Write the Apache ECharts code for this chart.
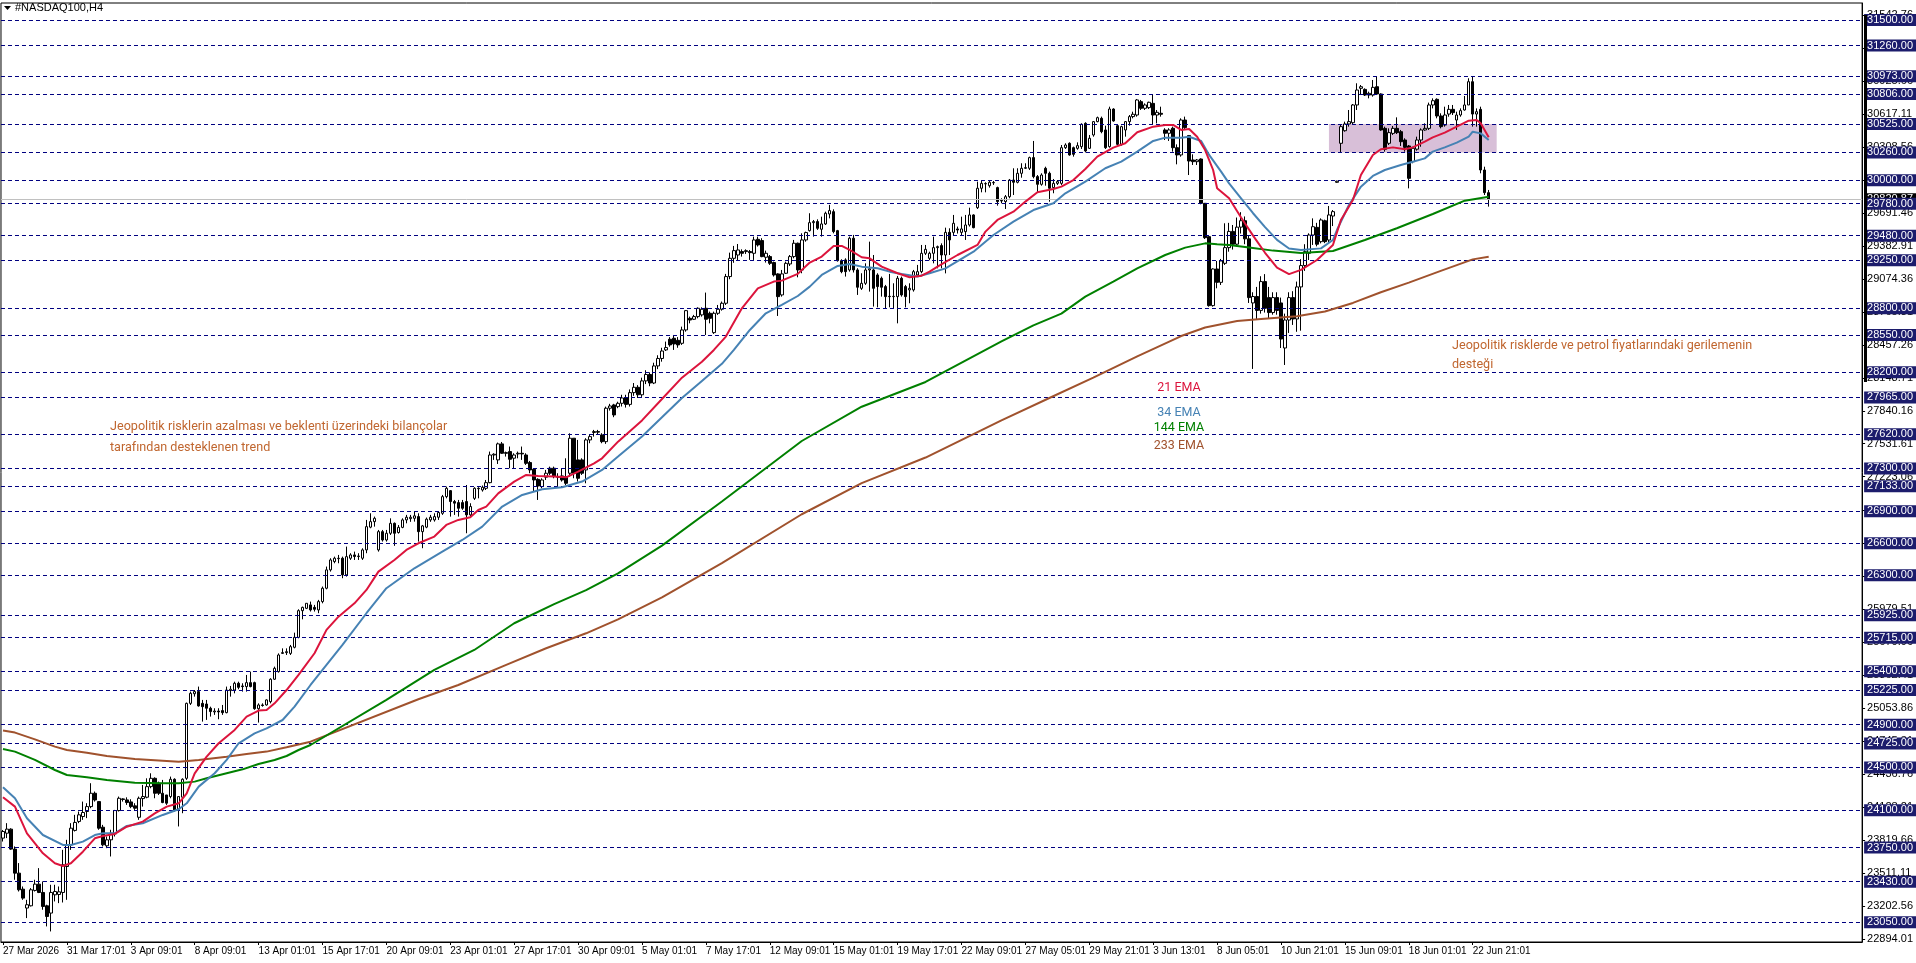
<!DOCTYPE html>
<html>
<head>
<meta charset="utf-8">
<title>#NASDAQ100,H4</title>
<script src="https://cdn.jsdelivr.net/npm/echarts@6.0.0/dist/echarts.min.js"></script>
<style>
html, body { margin: 0; padding: 0; background: #fff; }
#main { width: 1916px; height: 963px; }
</style>
</head>
<body>
<div id="main"></div>
<script>
// zaman etiketleri (her 16 mumda bir)
var tickLabels = ['27 Mar 2026', '31 Mar 17:01', '3 Apr 09:01', '8 Apr 09:01', '13 Apr 01:01', '15 Apr 17:01',
    '20 Apr 09:01', '23 Apr 01:01', '27 Apr 17:01', '30 Apr 09:01', '5 May 01:01', '7 May 17:01', '12 May 09:01',
    '15 May 01:01', '19 May 17:01', '22 May 09:01', '27 May 05:01', '29 May 21:01', '3 Jun 13:01', '8 Jun 05:01',
    '10 Jun 21:01', '15 Jun 09:01', '18 Jun 01:01', '22 Jun 21:01'];

// H4 mumlar: [open, close, low, high]
var ohlc = [
    [23838,23900,23806,23914],[23884,23922,23838,23978],[23922,23735,23728,23930],[23735,23510,23448,23760],
    [23510,23354,23338,23604],[23360,23276,23260,23385],[23183,23214,23089,23260],[23204,23354,23198,23370],
    [23348,23407,23338,23448],[23407,23329,23323,23557],[23329,23198,23167,23432],[23204,23104,23011,23214],
    [23136,23329,22964,23401],[23307,23338,23245,23401],[23310,23335,23229,23385],[23329,23588,23235,23728],
    [23572,23775,23260,23822],[23775,23931,23728,23978],[23910,23985,23900,24056],[23994,24056,23978,24087],
    [24040,24078,24009,24180],[24087,24133,24025,24165],[24133,24258,24118,24352],[24258,24195,24180,24274],
    [24180,23931,23916,24180],[23940,23775,23760,23962],[23766,23822,23744,23853],[23822,23884,23666,23916],
    [23878,24096,23853,24102],[24096,24211,24087,24227],[24205,24200,24180,24211],[24196,24171,24149,24220],
    [24177,24133,24118,24202],[24140,24118,24102,24165],[24033,24211,24009,24227],[24208,24227,24133,24336],
    [24221,24320,24211,24398],[24320,24398,24305,24445],[24398,24258,24211,24407],[24352,24258,24242,24367],
    [24258,24171,24165,24383],[24242,24165,24149,24242],[24227,24389,24211,24414],[24389,24102,24087,24398],
    [24109,24227,23947,24227],[24221,24389,24071,24398],[24398,25100,24383,25107],[25100,25194,25085,25210],
    [25190,25210,25163,25225],[25210,25076,25069,25257],[25100,25069,24929,25132],[25094,25054,24945,25132],
    [25054,25023,24976,25069],[25020,25028,24992,25054],[25028,25020,24951,25054],[25032,25013,24992,25085],
    [25013,25225,25007,25257],[25220,25232,25163,25263],[25225,25288,25194,25303],[25288,25250,25232,25303],
    [25263,25257,25210,25288],[25257,25294,25210,25366],[25294,25257,25250,25397],[25294,25050,25040,25303],
    [25050,25085,24920,25100],[25085,25080,25069,25100],[25085,25132,25079,25138],[25116,25326,25100,25335],
    [25326,25428,25319,25444],[25397,25553,25388,25568],[25568,25575,25563,25615],[25575,25584,25553,25615],
    [25568,25631,25553,25647],[25625,25718,25615,25762],[25718,25968,25709,25981],[25968,25999,25887,26006],
    [25990,26037,25983,26037],
    // 77
    [26022,25975,25960,26053],[25999,25981,25960,26022],[25975,26053,25944,26069],[26053,26178,26037,26194],
    [26178,26350,26168,26381],[26350,26443,26334,26459],[26428,26459,26412,26474],[26455,26459,26412,26490],
    [26459,26303,26272,26474],[26303,26474,26287,26568],[26459,26490,26443,26506],[26490,26475,26443,26521],
    [26475,26480,26443,26506],[26459,26537,26443,26552],[26537,26755,26506,26818],[26750,26802,26740,26880],
    [26802,26833,26755,26849],[26537,26708,26521,26724],[26708,26630,26615,26724],[26630,26693,26615,26724],
    [26693,26786,26677,26833],[26786,26693,26575,26794],[26700,26748,26690,26770],[26748,26818,26740,26833],
    [26818,26843,26786,26865],[26830,26843,26800,26865],[26833,26856,26802,26896],[26849,26708,26615,26880],
    [26708,26762,26553,26771],[26750,26825,26740,26840],[26818,26843,26800,26865],[26818,26849,26802,26880],
    [26843,26887,26818,26900],[26880,27036,26865,27052],[27036,27114,27020,27130],[27092,26990,26849,27098],
    [26990,26975,26865,27005],[26980,26927,26849,27005],[26980,26927,26912,27005],[26990,26865,26693,27145],
    [26865,26943,26849,26974],[27020,27114,27005,27124],[27114,27110,27020,27124],[27098,27124,27083,27140],
    [27114,27167,27098,27192],[27167,27426,27161,27458],[27426,27433,27380,27442],[27380,27530,27342,27542],
    [27530,27442,27436,27548],[27448,27442,27411,27458],[27458,27386,27302,27505],[27396,27426,27302,27442],
    [27436,27442,27395,27458],[27442,27436,27380,27505],[27426,27348,27333,27442],[27355,27286,27255,27370],
    [27292,27192,27083,27302],[27198,27136,27005,27208],[27130,27192,27114,27208],[27218,27255,27192,27286],
    [27302,27255,27239,27317],[27302,27224,27208,27317],[27224,27218,27130,27255],[27230,27192,27177,27302],
    [27224,27161,27145,27395],[27255,27583,27224,27629],[27583,27255,27208,27583],[27380,27208,27177,27567],
    [27380,27255,27239,27395],[27286,27567,27161,27583],[27567,27598,27536,27614],[27637,27645,27598,27661],
    [27645,27640,27614,27661],[27614,27551,27536,27630],[27551,27864,27530,27879],[27864,27885,27842,27905],
    [27895,27801,27780,27905],[27879,27910,27864,27925],
    // 155
    [27910,27960,27880,27990],[27960,27900,27870,27990],[27900,28010,27880,28040],[28010,28060,27980,28100],
    [28060,27990,27960,28080],[27990,28120,27970,28150],[28120,28180,28090,28220],[28180,28100,28070,28200],
    [28100,28260,28090,28290],[28260,28330,28230,28360],[28330,28400,28300,28430],
    // 166
    [28410,28432,28400,28488],[28510,28457,28440,28530],[28519,28466,28410,28550],[28500,28457,28430,28530],
    [28472,28597,28457,28628],[28597,28778,28581,28784],[28706,28690,28659,28722],[28697,28722,28690,28738],
    [28722,28800,28706,28809],[28738,28791,28722,28809],[28800,28697,28550,28947],[28753,28706,28659,28769],
    [28572,28753,28560,28769],[28753,28791,28738,28831],[28791,28847,28778,28863],[28847,29097,28831,29122],
    [29097,29268,29072,29321],[29268,29340,29226,29384],[29299,29346,29246,29402],[29331,29315,29284,29352],
    [29331,29340,29309,29352],[29331,29321,29253,29346],[29315,29440,29253,29471],[29446,29393,29378,29471],
    [29434,29284,29278,29456],[29278,29315,29228,29340],[29284,29221,29206,29299],[29228,29112,29097,29237],
    [29122,28909,28728,29128],[28925,29122,28909,29159],[29128,29221,29122,29237],[29215,29284,29196,29299],
    [29284,29409,29268,29440],[29409,29159,29090,29415],[29159,29440,29128,29502],[29440,29509,29424,29518],
    [29527,29602,29518,29690],[29602,29612,29471,29627],[29612,29549,29534,29633],[29540,29590,29471,29658],
    [29590,29690,29580,29705],[29683,29715,29642,29768],[29705,29518,29502,29727],[29527,29246,29237,29534],
    [29246,29143,29128,29259],[29253,29143,29097,29268],[29159,29456,29143,29471],[29456,29159,29135,29487],
    [29159,28997,28925,29175],[28987,29034,28972,29128],[29034,29159,29019,29221],[29159,29170,28956,29424],
    [29159,28987,28816,29299],[29112,29003,28809,29128],[29081,28997,28909,29097],[29003,28909,28800,29019],
    [28912,28909,28809,29122],[28909,28912,28800,29034],[28909,29081,28659,29103],[29081,28925,28909,29097],
    [29003,28909,28809,29019],[28972,28987,28847,29034],[28972,29143,28956,29159],[29112,29143,29100,29206],
    [29143,29315,29128,29393],[29315,29352,29299,29393],
    // 232
    [29268,29315,29250,29330],[29315,29368,29221,29471],[29368,29377,29174,29387],[29387,29299,29174,29408],
    [29299,29511,29127,29555],[29511,29440,29299,29549],[29511,29596,29486,29674],[29543,29533,29500,29565],
    [29511,29543,29486,29658],[29518,29580,29440,29674],[29580,29674,29565,29742],[29674,29555,29549,29680],
    [29742,29924,29730,29986],[29924,29970,29886,29992],[29965,29968,29886,29980],[29948,29980,29930,29992],
    [29975,29978,29955,29992],[29930,29799,29761,29939],[29810,29805,29783,29830],[29799,29845,29730,29861],
    [29845,30001,29830,30011],[30001,29980,29861,30111],[29980,30064,29970,30111],[30064,30111,30023,30158],
    [30111,30117,30105,30158],[30111,30211,30095,30220],[30211,30033,30017,30367],[30033,29961,29886,30048],
    [29961,30048,29948,30064],[30111,30064,29948,30126],[30064,29924,29798,30080],[29930,29970,29877,30011],
    [29970,29986,29955,30001],[29970,30304,29955,30329],[30304,30329,30292,30345],[30345,30236,30229,30354],
    [30304,30242,30220,30314],[30298,30323,30285,30354],[30314,30523,30292,30532],[30532,30273,30260,30542],
    [30298,30392,30292,30423],[30423,30548,30407,30554],[30548,30585,30542,30595],[30579,30454,30439,30595],
    [30470,30304,30292,30510],[30314,30666,30304,30688],[30666,30554,30548,30673],[30510,30335,30323,30517],
    [30335,30501,30323,30510],[30470,30548,30407,30554],[30548,30595,30510,30610],[30595,30617,30579,30641],
    [30610,30751,30595,30760],[30735,30673,30657,30751],[30673,30704,30657,30719],[30679,30729,30666,30735],
    [30719,30610,30517,30804],[30610,30635,30532,30657],[30626,30617,30595,30688],[30470,30439,30376,30486],
    [30439,30470,30367,30486],[30486,30304,30267,30501],[30304,30236,30148,30335],[30236,30563,30220,30579],
    [30563,30492,30470,30595],[30417,30179,30048,30423],[30189,30173,30142,30242],[30173,30189,30142,30198],
    [30198,29783,29774,30204],[29783,29461,29449,29783],[29471,28825,28815,29471],[28825,29168,28815,29174],
    [29168,29043,28987,29243],[29043,29243,29018,29262],[29221,29368,29206,29596],
    // 307
    [29368,29520,29330,29600],[29520,29400,29350,29580],[29400,29560,29380,29650],[29560,29620,29500,29700],
    [29620,29450,29400,29660],[29450,28900,28850,29480],[28850,28910,28232,28950],[28910,28780,28700,29000],
    [28780,29050,28750,29100],[29050,28800,28760,29120],[28900,28760,28700,29000],[28760,28900,28740,28950],
    [28900,28780,28740,28950],[28850,28512,28428,28900],[28428,28690,28269,28750],[28690,28900,28569,28950],
    [28900,28700,28644,28960],[28700,29000,28580,29050],[29000,29200,28590,29260],[29200,29330,29150,29400],
    // 327
    [29315,29486,29252,29502],[29486,29564,29393,29642],[29558,29400,29380,29600],[29424,29627,29408,29642],
    [29620,29424,29410,29630],[29439,29674,29408,29758],[29664,29705,29570,29720],[29980,29990,29975,29995],
    [30345,30501,30257,30516],[30463,30526,30454,30548],[30526,30548,30501,30657],[30538,30704,30526,30713],
    [30704,30844,30657,30907],[30860,30875,30797,30891],[30850,30797,30788,30860],[30797,30813,30766,30829],
    [30797,30869,30782,30938],[30875,30807,30797,30969],[30807,30470,30463,30813],[30485,30289,30267,30501],
    [30345,30445,30329,30485],[30438,30485,30423,30507],[30485,30445,30432,30588],[30454,30360,30320,30470],
    [30376,30307,30267,30392],[30320,30017,29923,30329],[30173,30298,30158,30313],[30290,30376,30276,30407],
    [30376,30470,30313,30485],[30470,30485,30463,30532],[30485,30704,30470,30726],[30704,30744,30672,30766],
    [30757,30601,30579,30766],[30601,30501,30485,30626],[30516,30610,30501,30688],[30619,30663,30594,30704],
    [30663,30632,30610,30704],[30563,30610,30470,30641],[30610,30651,30594,30672],[30657,30704,30651,30788],
    [30704,30922,30704,30954],[30922,30619,30501,30969],[30619,30641,30501,30672],[30663,30095,30064,30688],
    [30095,29883,29861,30126],[29883,29821,29752,29908]
];

// EMA değerleri: [mum no, değer]
var ema21 = [[0,24220],[3,24133],[6,23883],[10,23696],[13,23602],[15,23577],[17,23602],[20,23711],[23,23836],
    [25,23858],[28,23877],[31,23945],[35,23992],[38,24070],[41,24133],[44,24164],[46,24258],[48,24445],[51,24601],
    [54,24726],[58,24851],[61,24976],[64,25032],[66,25038],[68,25100],[71,25225],[74,25366],[78,25569],[81,25788],
    [84,25912],[88,26037],[91,26162],[94,26334],[98,26443],[101,26537],[104,26599],[108,26662],[111,26771],
    [114,26818],[117,26843],[119,26911],[121,26943],[124,27067],[128,27177],[131,27239],[134,27230],[138,27224],
    [141,27217],[144,27270],[148,27348],[150,27395],[154,27551],[160,27750],[165,27950],[170,28150],[175,28300],
    [178,28410],[181,28535],[185,28800],[189,28987],[193,29050],[195,29059],[199,29122],[202,29228],[205,29284],
    [208,29384],[210,29384],[212,29346],[215,29278],[217,29268],[220,29190],[224,29128],[227,29090],[230,29105],
    [232,29143],[234,29190],[239,29299],[244,29393],[246,29518],[249,29627],[253,29705],[256,29799],[259,29886],
    [263,29917],[265,29939],[268,30001],[271,30105],[274,30220],[278,30304],[281,30345],[284,30448],[288,30501],
    [291,30517],[293,30517],[295,30470],[297,30479],[299,30407],[301,30282],[303,30095],[304,29924],[307,29830],
    [310,29650],[313,29480],[316,29320],[319,29180],[322,29120],[325,29160],[329,29252],[333,29393],[335,29627],
    [338,29814],[340,30048],[343,30236],[345,30289],[348,30307],[351,30289],[353,30307],[356,30360],[358,30401],
    [361,30445],[364,30501],[367,30557],[369,30563],[370,30532],[372,30401]];
var ema34 = [[0,24314],[3,24211],[6,24024],[10,23867],[15,23774],[17,23774],[20,23805],[23,23867],[25,23883],
    [28,23883],[31,23952],[35,23977],[40,24055],[44,24108],[46,24164],[49,24320],[53,24445],[56,24570],[59,24726],
    [63,24819],[66,24866],[70,24944],[73,25069],[77,25272],[80,25413],[85,25647],[91,25944],[96,26178],[103,26365],
    [110,26521],[115,26630],[120,26755],[125,26943],[130,27052],[135,27105],[140,27124],[145,27177],[150,27286],
    [154,27411],[160,27600],[165,27780],[170,27960],[175,28120],[180,28280],[183,28410],[187,28597],[191,28753],
    [195,28831],[199,28915],[202,29003],[205,29112],[209,29196],[212,29215],[215,29190],[219,29175],[222,29143],
    [225,29122],[229,29097],[232,29128],[236,29174],[243,29330],[248,29486],[253,29611],[258,29720],[263,29783],
    [266,29877],[271,29986],[276,30111],[280,30173],[284,30267],[288,30367],[291,30398],[295,30398],[297,30407],
    [300,30367],[302,30236],[305,30080],[307,29970],[310,29830],[313,29690],[316,29560],[319,29440],[322,29360],
    [325,29345],[330,29361],[333,29439],[334,29533],[337,29767],[340,29939],[343,30039],[346,30095],[350,30142],
    [353,30173],[356,30204],[358,30267],[361,30307],[364,30351],[367,30407],[368,30454],[370,30438],[372,30376]];
var ema144 = [[0,24673],[3,24648],[8,24570],[13,24476],[16,24429],[21,24407],[26,24382],[33,24357],[40,24351],
    [44,24351],[48,24367],[51,24398],[56,24445],[60,24482],[64,24532],[68,24570],[71,24607],[74,24663],[77,24710],
    [96,25132],[108,25413],[118,25600],[128,25850],[138,26030],[146,26160],[154,26318],[165,26577],[180,26990],
    [200,27557],[215,27878],[231,28110],[250,28490],[258,28640],[265,28750],[271,28909],[278,29050],
    [284,29174],[291,29299],[296,29368],[301,29408],[304,29399],[307,29393],[312,29370],[318,29340],[325,29318],
    [333,29337],[341,29440],[349,29549],[358,29683],[366,29808],[372,29845]];
var ema233 = [[0,24845],[3,24826],[8,24763],[13,24695],[16,24663],[21,24638],[26,24607],[33,24579],[40,24563],
    [44,24554],[49,24570],[56,24601],[61,24626],[66,24648],[71,24688],[77,24741],[104,25138],[114,25272],
    [126,25460],[136,25616],[146,25756],[154,25887],[165,26092],[180,26413],[200,26871],[215,27162],[231,27402],
    [250,27750],[262,27960],[273,28150],[284,28350],[295,28540],[301,28620],[309,28680],[315,28700],[324,28725],
    [331,28770],[338,28850],[345,28950],[352,29040],[360,29150],[368,29258],[372,29283]];

// yatay seviyeler
var levels = [31500, 31260, 30973, 30806, 30525, 30260, 30000, 29780, 29480, 29250, 28800, 28550, 28200,
    27965, 27620, 27300, 27133, 26900, 26600, 26300, 25925, 25715, 25400, 25225, 24900, 24725, 24500, 24100,
    23750, 23430, 23050];
// fiyat ekseni etiketleri
var priceTicks = [22894.01, 23202.56, 23511.11, 23819.66, 24128.21, 24436.76, 24745.31, 25053.86, 25362.41,
    25670.96, 25979.51, 26288.06, 26596.61, 26905.16, 27223.06, 27531.61, 27840.16, 28148.71, 28457.26,
    28765.81, 29074.36, 29382.91, 29691.46, 30000.01, 30308.56, 30617.11, 30925.66, 31234.21, 31542.76];
var lastPrice = 29820.87;
var zoneBars = [332, 374];
var zonePrices = [30260, 30525];

var slotCount = 466; // grafik sağa kaydırılmış, boş alan dahil
var slots = [];
for (var i = 0; i < slotCount; i++) slots.push(i);

var myChart = echarts.init(document.getElementById('main'));

var levelLabel = {
    show: true, position: 'end', distance: 2,
    color: '#fff', backgroundColor: '#1c1c6c',
    padding: [1, 3, 0, 3], fontSize: 11, fontFamily: 'Liberation Sans',
    formatter: function (p) { return p.value.toFixed(2); }
};

var markData = [{
    yAxis: lastPrice,
    lineStyle: { color: '#c0c0c0', type: 'solid', width: 1 },
    label: { show: true, position: 'end', distance: 2, color: '#fff', backgroundColor: '#000',
        padding: [1, 3, 0, 3], fontSize: 11, fontFamily: 'Liberation Sans',
        formatter: function () { return lastPrice.toFixed(2); } }
}];
levels.forEach(function (v) {
    markData.push({ yAxis: v });
});

function emaLine(name, data, color) {
    return {
        name: name, type: 'line', data: data, showSymbol: false, smooth: false, z: 5,
        lineStyle: { color: color, width: 2 }, silent: true
    };
}

function showTick(i) {
    return i % 16 === 0 && i / 16 < tickLabels.length;
}

var option = {
    animation: false,
    backgroundColor: '#fff',
    grid: { left: 0, right: 51, top: 3, bottom: 21, show: true, borderColor: '#000', borderWidth: 1 },
    xAxis: {
        type: 'category', data: slots, boundaryGap: true,
        axisLine: { lineStyle: { color: '#000', width: 1 } },
        axisTick: { show: true, alignWithLabel: true, length: 3, lineStyle: { color: '#000' }, interval: showTick },
        axisLabel: {
            interval: showTick,
            formatter: function (v, i) { return tickLabels[i / 16] || ''; },
            align: 'left', margin: 4, color: '#000', fontSize: 10, fontFamily: 'Liberation Sans'
        },
        splitLine: { show: false }
    },
    yAxis: {
        type: 'value', position: 'right', min: 22865, max: 31659, scale: true,
        axisLine: { show: true, lineStyle: { color: '#000', width: 1 } },
        axisTick: { show: true, length: 3, customValues: priceTicks, lineStyle: { color: '#000' } },
        axisLabel: {
            customValues: priceTicks, margin: 5, color: '#000', fontSize: 11, fontFamily: 'Liberation Sans',
            formatter: function (v) { return v.toFixed(2); }
        },
        splitLine: { show: false }
    },
    series: [
        {
            name: 'zone', type: 'line', data: [], z: 1, silent: true,
            markArea: {
                silent: true,
                itemStyle: { color: '#d8bfd8' },
                data: [[{ xAxis: zoneBars[0], yAxis: zonePrices[0] }, { xAxis: zoneBars[1], yAxis: zonePrices[1] }]]
            }
        },
        {
            name: 'levels', type: 'line', data: [], z: 2, silent: true,
            markLine: {
                silent: true, symbol: ['none', 'none'],
                lineStyle: { color: '#000080', type: [4, 3], width: 1 },
                label: levelLabel,
                data: markData
            }
        },
        {
            name: 'NASDAQ100', type: 'candlestick', data: ohlc, barWidth: 3, z: 3, silent: true,
            itemStyle: { color: '#fff', color0: '#000', borderColor: '#000', borderColor0: '#000', borderWidth: 1 }
        },
        emaLine('EMA 233', ema233, '#a0522d'),
        emaLine('EMA 144', ema144, '#008000'),
        emaLine('EMA 34', ema34, '#4682b4'),
        emaLine('EMA 21', ema21, '#dc143c')
    ],
    graphic: [
        { type: 'polygon', shape: { points: [[4, 6], [11, 6], [7.5, 10]] }, style: { fill: '#000' }, z: 100 },
        { type: 'text', left: 15, top: 2, z: 100,
          style: { text: '#NASDAQ100,H4', fill: '#000', font: '11px "Liberation Sans"' } },
        { type: 'rect', shape: { x: 1864, y: 15, width: 3, height: 367 }, style: { fill: '#000' }, z: 100 },
        { type: 'text', left: 110, top: 416, z: 100,
          style: { text: 'Jeopolitik risklerin azalması ve beklenti üzerindeki bilançolar\ntarafından desteklenen trend',
                   fill: '#c0662f', font: '12.6px Roboto', lineHeight: 21 } },
        { type: 'text', left: 1452, top: 336, z: 100,
          style: { text: 'Jeopolitik risklerde ve petrol fiyatlarındaki gerilemenin\ndesteği',
                   fill: '#c0662f', font: '12.6px Roboto', lineHeight: 19 } },
        { type: 'text', x: 1179, y: 388, z: 100,
          style: { text: '21 EMA', fill: '#dc143c', font: '12.5px Roboto', align: 'center', verticalAlign: 'middle' } },
        { type: 'text', x: 1179, y: 413, z: 100,
          style: { text: '34 EMA', fill: '#4682b4', font: '12.5px Roboto', align: 'center', verticalAlign: 'middle' } },
        { type: 'text', x: 1179, y: 428, z: 100,
          style: { text: '144 EMA', fill: '#008000', font: '12.5px Roboto', align: 'center', verticalAlign: 'middle' } },
        { type: 'text', x: 1179, y: 446, z: 100,
          style: { text: '233 EMA', fill: '#a0522d', font: '12.5px Roboto', align: 'center', verticalAlign: 'middle' } }
    ]
};

myChart.setOption(option);
</script>
</body>
</html>
